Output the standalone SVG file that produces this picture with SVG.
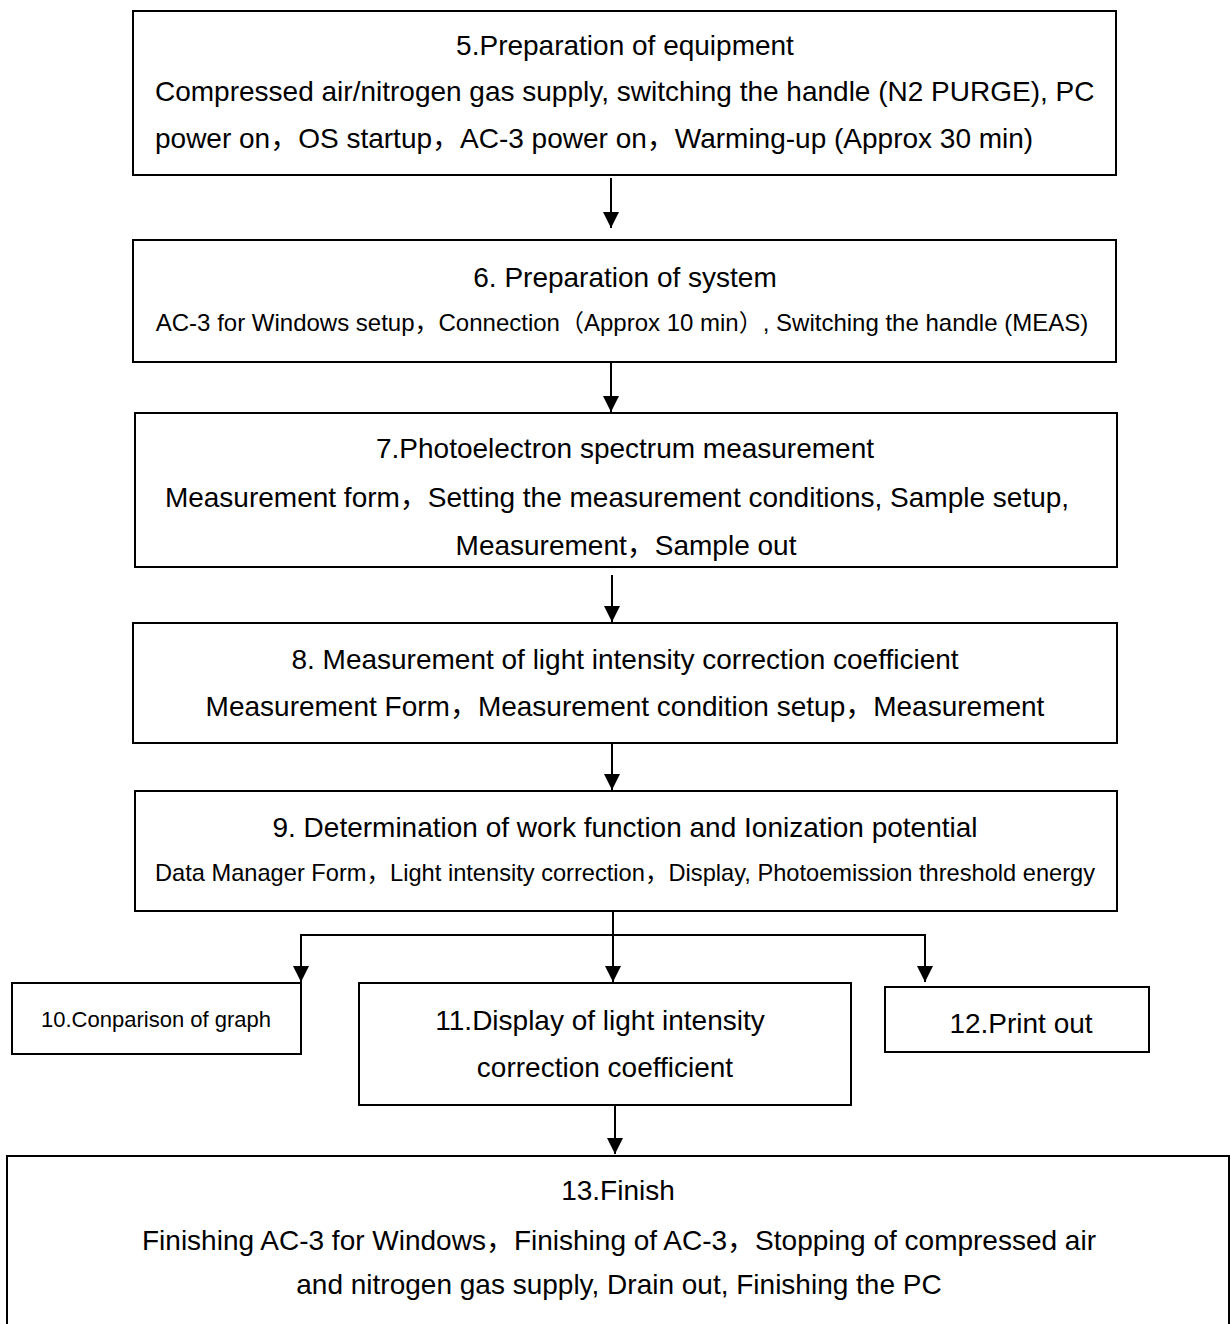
<svg xmlns="http://www.w3.org/2000/svg" width="1231" height="1324" viewBox="0 0 1231 1324">
<style>
.box{fill:#fff;stroke:#000;stroke-width:2}
text{font-family:"Liberation Sans",Arial,"Noto Sans CJK JP",sans-serif;fill:#000}
.t28{font-size:28px}
.t24{font-size:24px}
.t22{font-size:22px}
.c{text-anchor:middle}
.ln{fill:none;stroke:#000;stroke-width:2}
</style>
<defs>
<marker id="ah" markerUnits="userSpaceOnUse" markerWidth="16" markerHeight="16" refX="16" refY="8" orient="auto">
<path d="M0,0 L16,8 L0,16 Z" fill="#000"/>
</marker>
</defs>
<rect width="1231" height="1324" fill="#fff"/>
<g id="connectors">
<path class="ln" d="M611,178 V228" marker-end="url(#ah)"/>
<path class="ln" d="M611,363 V412" marker-end="url(#ah)"/>
<path class="ln" d="M612,575 V622" marker-end="url(#ah)"/>
<path class="ln" d="M612,744 V790" marker-end="url(#ah)"/>
<path class="ln" d="M613,912 V982" marker-end="url(#ah)"/>
<path class="ln" d="M301,982 V935 H925 V982" marker-end="url(#ah)"/>
<path class="ln" d="M301,936 V982" marker-end="url(#ah)"/>
<path class="ln" d="M615,1106 V1154" marker-end="url(#ah)"/>
</g>
<g id="n5">
<rect class="box" x="133" y="11" width="983" height="164"/>
<text class="t28 c" x="625" y="55">5.Preparation of equipment</text>
<text class="t28" x="155" y="101">Compressed air/nitrogen gas supply, switching the handle (N2 PURGE), PC</text>
<text class="t28" x="155" y="148">power on，OS startup，AC-3 power on，Warming-up (Approx 30 min)</text>
</g>
<g id="n6">
<rect class="box" x="133" y="240" width="983" height="122"/>
<text class="t28 c" x="625" y="287">6. Preparation of system</text>
<text class="t24 c" x="622" y="331">AC-3 for Windows setup，Connection（Approx 10 min）, Switching the handle (MEAS)</text>
</g>
<g id="n7">
<rect class="box" x="135" y="413" width="982" height="154"/>
<text class="t28 c" x="625" y="458">7.Photoelectron spectrum measurement</text>
<text class="t28 c" x="617" y="507">Measurement form，Setting the measurement conditions, Sample setup,</text>
<text class="t28 c" x="626" y="555">Measurement，Sample out</text>
</g>
<g id="n8">
<rect class="box" x="133" y="623" width="984" height="120"/>
<text class="t28 c" x="625" y="669">8. Measurement of light intensity correction coefficient</text>
<text class="t28 c" x="625" y="716">Measurement Form，Measurement condition setup，Measurement</text>
</g>
<g id="n9">
<rect class="box" x="135" y="791" width="982" height="120"/>
<text class="t28 c" x="625" y="837">9. Determination of work function and Ionization potential</text>
<text class="t24 c" x="625" y="881" textLength="940" lengthAdjust="spacingAndGlyphs">Data Manager Form，Light intensity correction，Display, Photoemission threshold energy</text>
</g>
<g id="n10">
<rect class="box" x="12" y="983" width="289" height="71"/>
<text class="t22 c" x="156" y="1027">10.Conparison of graph</text>
</g>
<g id="n11">
<rect class="box" x="359" y="983" width="492" height="122"/>
<text class="t28 c" x="600" y="1030">11.Display of light intensity</text>
<text class="t28 c" x="605" y="1077">correction coefficient</text>
</g>
<g id="n12">
<rect class="box" x="885" y="987" width="264" height="65"/>
<text class="t28 c" x="1021" y="1033">12.Print out</text>
</g>
<g id="n13">
<rect class="box" x="7" y="1156" width="1222" height="200"/>
<text class="t28 c" x="618" y="1200">13.Finish</text>
<text class="t28 c" x="619" y="1250">Finishing AC-3 for Windows，Finishing of AC-3，Stopping of compressed air</text>
<text class="t28 c" x="619" y="1294">and nitrogen gas supply, Drain out, Finishing the PC</text>
</g>
</svg>
